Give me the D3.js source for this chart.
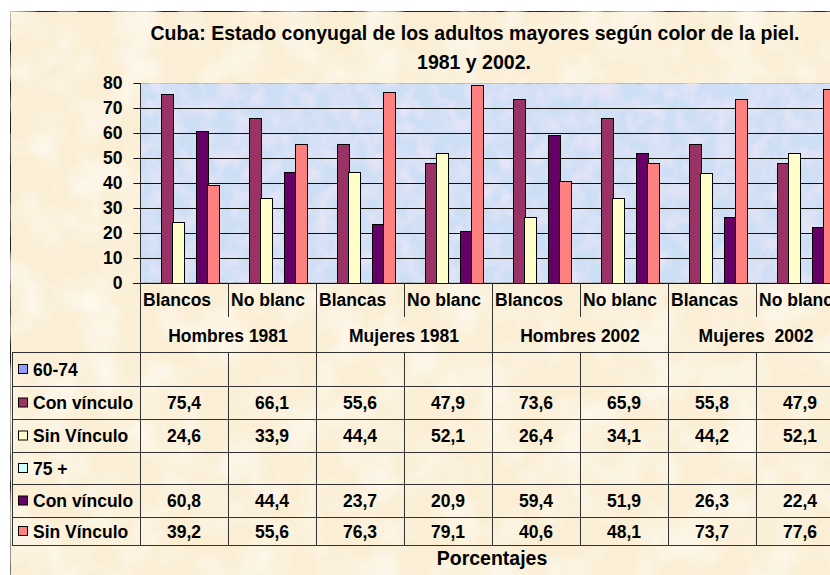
<!DOCTYPE html>
<html>
<head>
<meta charset="utf-8">
<script src="https://cdn.jsdelivr.net/npm/d3@7"></script>
<style>
  body { margin: 0; background: #fff; }
  svg { display: block; font-family: 'Liberation Sans', Arial, sans-serif; font-weight: bold; }
</style>
</head>
<body>
<div class="chart"></div>
<script>
'use strict';

// categories (bottom row of labels is the group)
const categories = ['Blancos', 'No blanc', 'Blancas', 'No blanc', 'Blancos', 'No blanc', 'Blancas', 'No blanc'];
const groups = ['Hombres 1981', 'Mujeres 1981', 'Hombres 2002', 'Mujeres  2002'];

// series, in table order; the age headers have no values
const seriesNames = ['60-74', 'Con vínculo', 'Sin Vínculo', '75 +', 'Con vínculo', 'Sin Vínculo'];
const seriesColors = ['#9999ff', '#993366', '#ffffcc', '#ccffff', '#660066', '#ff8080'];

const conVinculo6074 = [75.4, 66.1, 55.6, 47.9, 73.6, 65.9, 55.8, 47.9];
const sinVinculo6074 = [24.6, 33.9, 44.4, 52.1, 26.4, 34.1, 44.2, 52.1];
const conVinculo75 = [60.8, 44.4, 23.7, 20.9, 59.4, 51.9, 26.3, 22.4];
const sinVinculo75 = [39.2, 55.6, 76.3, 79.1, 40.6, 48.1, 73.7, 77.6];

const yTicks = [0, 10, 20, 30, 40, 50, 60, 70, 80];

const seriesValues = [null, conVinculo6074, sinVinculo6074, null, conVinculo75, sinVinculo75];


const WIDTH = 830;
const HEIGHT = 575;
const FS = '17.5px';
const FS_TITLE = '19.5px';

const plot = {left: 140, right: 844, top: 83, bottom: 283};
const tableTop = 352;
const rowEdges = [352, 386, 419, 452, 484, 517, 545];

const svg = d3.select('.chart')
  .append('svg')
    .attr('width', WIDTH)
    .attr('height', HEIGHT);

const defs = svg.append('defs');

// parchment texture
const paper = defs.append('filter').attr('id', 'paper')
    .attr('x', 0).attr('y', 0).attr('width', 1).attr('height', 1);
paper.append('feTurbulence')
    .attr('type', 'fractalNoise').attr('baseFrequency', '0.025').attr('numOctaves', 3).attr('seed', 4)
    .attr('result', 'noise');
paper.append('feColorMatrix').attr('in', 'noise').attr('type', 'matrix')
    .attr('values', '0 0 0 0 1  0 0 0 0 0.97  0 0 0 0 0.9  1.6 0 0 0 -0.6')
    .attr('result', 'tint');
paper.append('feComposite').attr('in', 'tint').attr('in2', 'SourceGraphic').attr('operator', 'over');

// blue tissue texture of the plot area
const tissue = defs.append('filter').attr('id', 'tissue')
    .attr('x', 0).attr('y', 0).attr('width', 1).attr('height', 1);
tissue.append('feTurbulence')
    .attr('type', 'fractalNoise').attr('baseFrequency', '0.06').attr('numOctaves', 3).attr('seed', 9)
    .attr('result', 'noise');
tissue.append('feColorMatrix').attr('in', 'noise').attr('type', 'matrix')
    .attr('values', '0 0 0 0 0.88  0 0 0 0 0.80  0 0 0 0 0.94  1.5 0 0 0 -0.55')
    .attr('result', 'tint');
tissue.append('feComposite').attr('in', 'tint').attr('in2', 'SourceGraphic').attr('operator', 'over');

// chart area
svg.append('rect')
    .attr('x', 10.5).attr('y', 11.5)
    .attr('width', WIDTH).attr('height', HEIGHT)
    .attr('fill', '#faeed4')
    .attr('stroke', '#222')
    .attr('filter', 'url(#paper)');

// title
svg.append('text')
    .attr('x', 475).attr('y', 40)
    .attr('text-anchor', 'middle')
    .style('font-size', FS_TITLE)
    .text('Cuba: Estado conyugal de los adultos mayores según color de la piel.');
svg.append('text')
    .attr('x', 474).attr('y', 69)
    .attr('text-anchor', 'middle')
    .style('font-size', FS_TITLE)
    .text('1981 y 2002.');

// scales
const x = d3.scaleBand()
    .domain(d3.range(categories.length))
    .range([plot.left, plot.right]);

// excel gap width 150%: 6 slots + 1.5 slot of gap
const x1 = d3.scaleBand()
    .domain(d3.range(seriesNames.length))
    .range([0, x.bandwidth()])
    .paddingOuter(0.75);

const y = d3.scaleLinear()
    .domain([0, 80])
    .range([plot.bottom, plot.top]);

// plot area
svg.append('rect')
    .attr('x', plot.left).attr('y', plot.top)
    .attr('width', plot.right - plot.left).attr('height', plot.bottom - plot.top)
    .attr('fill', '#cddff5')
    .attr('stroke', '#888')
    .attr('filter', 'url(#tissue)');

// gridlines
svg.append('g')
  .selectAll('line')
  .data(yTicks.slice(1, -1))
  .enter().append('line')
    .attr('x1', plot.left).attr('x2', plot.right)
    .attr('y1', d => Math.round(y(d)) + 0.5)
    .attr('y2', d => Math.round(y(d)) + 0.5)
    .attr('stroke', '#111');

// bars
const bars = svg.append('g');
seriesValues.forEach((vals, s) => {
  if (!vals) return;
  bars.append('g')
    .selectAll('rect')
    .data(vals)
    .enter().append('rect')
      .attr('x', (d, i) => Math.round(x(i) + x1(s)) + 0.5)
      .attr('y', d => Math.round(y(d)) + 0.5)
      .attr('width', Math.round(x1.bandwidth()))
      .attr('height', d => Math.round(y(0)) - Math.round(y(d)))
      .attr('fill', seriesColors[s])
      .attr('stroke', '#000')
      .attr('stroke-width', 1);
});

// y axis
const yAxis = svg.append('g')
    .attr('transform', `translate(${plot.left + 0.5},0)`)
    .call(d3.axisLeft(y).tickValues(yTicks).tickSize(7).tickPadding(11));
yAxis.select('.domain').attr('stroke', '#333').attr('d', `M0,${plot.top}V${plot.bottom + 0.5}`);
yAxis.selectAll('.tick line').attr('stroke', '#111');
yAxis.selectAll('.tick text')
    .attr('fill', '#000')
    .style('font-size', FS)
    .style('font-family', "'Liberation Sans', Arial, sans-serif")
    .style('font-weight', 'bold');
yAxis.selectAll('.tick').attr('transform', d => `translate(0,${Math.round(y(d)) + 0.5})`);

// x axis line
svg.append('line')
    .attr('x1', plot.left - 7).attr('x2', WIDTH)
    .attr('y1', plot.bottom + 0.5).attr('y2', plot.bottom + 0.5)
    .attr('stroke', '#111');

const lines = svg.append('g').attr('stroke', '#333').attr('stroke-width', 1);

// category label dividers
lines.selectAll('.catdiv')
  .data(d3.range(1, categories.length + 1))
  .enter().append('line')
    .attr('x1', i => Math.round(x(0) + i * x.bandwidth()) + 0.5)
    .attr('x2', i => Math.round(x(0) + i * x.bandwidth()) + 0.5)
    .attr('y1', plot.bottom)
    .attr('y2', i => i % 2 === 0 ? tableTop : 317);

// left edge of the labels and table
lines.append('line')
    .attr('x1', plot.left + 0.5).attr('x2', plot.left + 0.5)
    .attr('y1', plot.bottom).attr('y2', rowEdges[rowEdges.length - 1]);

// category labels
svg.append('g')
  .selectAll('text')
  .data(categories)
  .enter().append('text')
    .attr('x', (d, i) => x(i) + 3)
    .attr('y', 306)
    .style('font-size', FS)
    .text(d => d);

// group labels
svg.append('g')
  .selectAll('text')
  .data(groups)
  .enter().append('text')
    .attr('x', (d, i) => x(i * 2) + x.bandwidth())
    .attr('y', 342)
    .attr('text-anchor', 'middle')
    .style('font-size', FS)
    .style('white-space', 'pre')
    .text(d => d);

// data table
lines.selectAll('.hrow')
  .data(rowEdges)
  .enter().append('line')
    .attr('x1', 12).attr('x2', WIDTH)
    .attr('y1', d => d + 0.5).attr('y2', d => d + 0.5);

lines.append('line')
    .attr('x1', 12.5).attr('x2', 12.5)
    .attr('y1', rowEdges[0]).attr('y2', rowEdges[rowEdges.length - 1]);

lines.selectAll('.tcol')
  .data(d3.range(1, categories.length + 1))
  .enter().append('line')
    .attr('x1', i => Math.round(x(0) + i * x.bandwidth()) + 0.5)
    .attr('x2', i => Math.round(x(0) + i * x.bandwidth()) + 0.5)
    .attr('y1', rowEdges[0]).attr('y2', rowEdges[rowEdges.length - 1]);

const rows = svg.append('g')
  .selectAll('g')
  .data(seriesNames)
  .enter().append('g')
    .attr('transform', (d, i) => `translate(0,${(rowEdges[i] + rowEdges[i + 1]) / 2})`);

rows.append('rect')
    .attr('x', 18.5).attr('y', -4.5)
    .attr('width', 9).attr('height', 9)
    .attr('fill', (d, i) => seriesColors[i])
    .attr('stroke', '#000');

rows.append('text')
    .attr('x', 33).attr('y', 6.5)
    .style('font-size', FS)
    .text(d => d);

rows.each(function(name, s) {
  const vals = seriesValues[s];
  if (!vals) return;
  d3.select(this).selectAll('.val')
    .data(vals)
    .enter().append('text')
      .attr('x', (d, i) => x(i) + x.bandwidth() / 2)
      .attr('y', 6.5)
      .attr('text-anchor', 'middle')
      .style('font-size', FS)
      .text(d => d.toFixed(1).replace('.', ','));
});

// axis title
svg.append('text')
    .attr('x', (plot.left + plot.right) / 2)
    .attr('y', 565)
    .attr('text-anchor', 'middle')
    .style('font-size', FS_TITLE)
    .text('Porcentajes');
</script>
</body>
</html>
